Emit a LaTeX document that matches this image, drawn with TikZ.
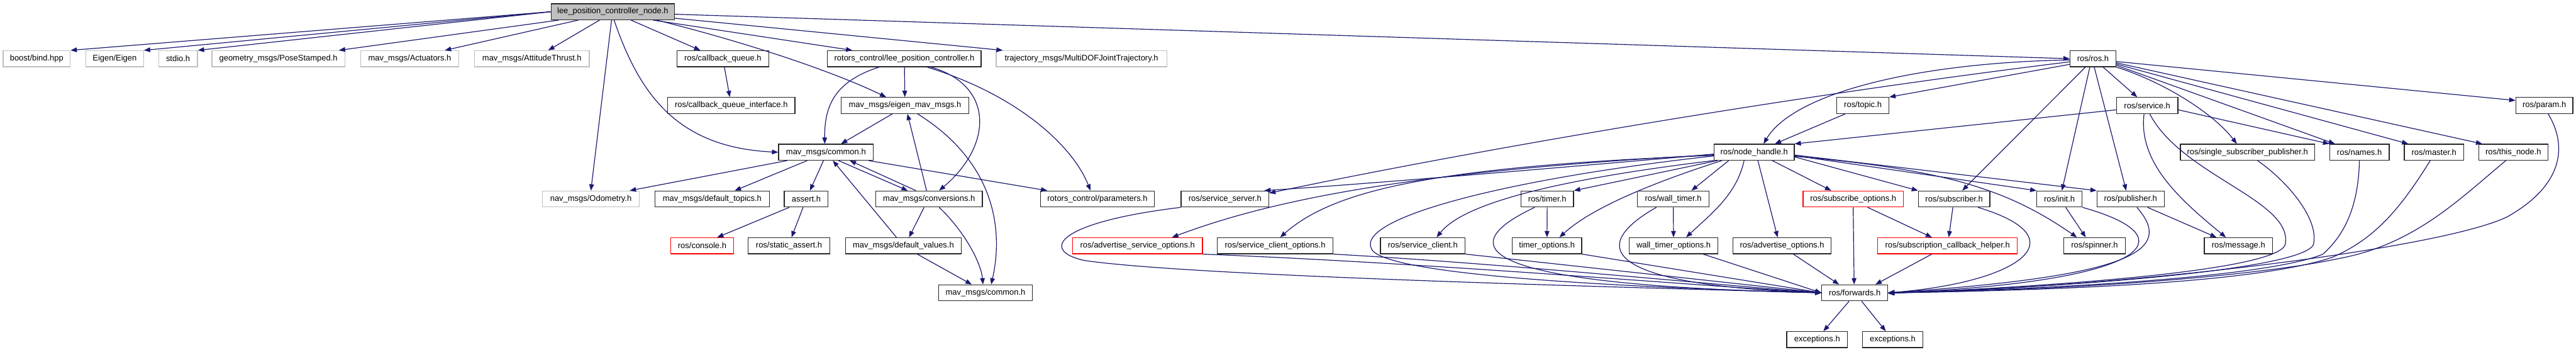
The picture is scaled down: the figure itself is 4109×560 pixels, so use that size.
\documentclass[tikz,border=0pt]{standalone}
\usepackage{fontspec}
\setmainfont{Liberation Sans}
\usetikzlibrary{arrows.meta}
\definecolor{edgec}{HTML}{191970}
\definecolor{gbord}{HTML}{BFBFBF}
\definecolor{topfill}{HTML}{BFBFBF}
\newcommand\nbox[6]{\pgfmathsetmacro\nbcx{(#3+#4)/2}\pgfmathsetmacro\nbw{#4-#3}\node[#1,minimum width=\nbw pt] (#2) at (\nbcx,#5) {#6};}
\tikzset{
 nb/.style={draw=black!85, line width=1.2pt, rectangle, inner sep=0pt, minimum height=25.5pt, font=\fontsize{13}{15}\selectfont, fill=white},
 ng/.style={nb, draw=gbord},
 nr/.style={nb, draw=red},
 ntop/.style={nb, fill=topfill},
 edg/.style={draw=edgec, line width=1.2pt, -{Triangle[length=10pt,width=7.5pt]}}
}
\begin{document}
\begin{tikzpicture}[x=1pt,y=-1pt]
\useasboundingbox (0,0) rectangle (4109,560);
% row 0
\nbox{ntop}{n0}{879}{1076}{18.7}{lee\_position\_controller\_node.h}
% row 1
\nbox{ng}{boost}{5}{112}{93.5}{boost/bind.hpp}
\nbox{ng}{eigen}{137}{229}{93.5}{Eigen/Eigen}
\nbox{ng}{stdio}{253}{315}{93.5}{stdio.h}
\nbox{ng}{pose}{338}{550}{93.5}{geometry\_msgs/PoseStamped.h}
\nbox{ng}{act}{575}{732}{93.5}{mav\_msgs/Actuators.h}
\nbox{ng}{att}{757}{940}{93.5}{mav\_msgs/AttitudeThrust.h}
\nbox{nb}{cbq}{1080}{1226}{93.5}{ros/callback\_queue.h}
\nbox{nb}{rclpc}{1320}{1565}{93.5}{rotors\_control/lee\_position\_controller.h}
\nbox{ng}{traj}{1589}{1861}{93.5}{trajectory\_msgs/MultiDOFJointTrajectory.h}
\nbox{nb}{ros}{3302}{3375}{93.5}{ros/ros.h}
% row 2
\nbox{nb}{cbqi}{1065}{1268}{168}{ros/callback\_queue\_interface.h}
\nbox{nb}{emm}{1342}{1545}{168}{mav\_msgs/eigen\_mav\_msgs.h}
\nbox{nb}{topic}{2930}{3013}{168}{ros/topic.h}
\nbox{nb}{service}{3376}{3474}{168}{ros/service.h}
\nbox{nb}{param}{4013}{4104}{168}{ros/param.h}
% row 3
\nbox{nb}{common1}{1242}{1393}{242.5}{mav\_msgs/common.h}
\nbox{nb}{nh}{2734}{2862}{242.5}{ros/node\_handle.h}
\nbox{nb}{ssp}{3478}{3692}{242.5}{ros/single\_subscriber\_publisher.h}
\nbox{nb}{names}{3716}{3811}{242.5}{ros/names.h}
\nbox{nb}{master}{3835}{3930}{242.5}{ros/master.h}
\nbox{nb}{thisnode}{3954}{4064}{242.5}{ros/this\_node.h}
% row 4
\nbox{ng}{odom}{865}{1020}{317}{nav\_msgs/Odometry.h}
\nbox{nb}{dtopics}{1045}{1227}{317}{mav\_msgs/default\_topics.h}
\nbox{nb}{assert}{1251}{1321}{317}{assert.h}
\nbox{nb}{conv}{1397}{1567}{317}{mav\_msgs/conversions.h}
\nbox{nb}{params}{1660}{1841}{317}{rotors\_control/parameters.h}
\nbox{nb}{sserver}{1884}{2024}{317}{ros/service\_server.h}
\nbox{nb}{timer}{2426}{2510}{317}{ros/timer.h}
\nbox{nb}{wtimer}{2612}{2726}{317}{ros/wall\_timer.h}
\nbox{nr}{subopt}{2876}{3036}{317}{ros/subscribe\_options.h}
\nbox{nb}{subscriber}{3060}{3174}{317}{ros/subscriber.h}
\nbox{nb}{init}{3249}{3321}{317}{ros/init.h}
\nbox{nb}{publisher}{3345}{3452}{317}{ros/publisher.h}
% row 5
\nbox{nr}{console}{1070}{1170}{391.5}{ros/console.h}
\nbox{nb}{sassert}{1193}{1324}{391.5}{ros/static\_assert.h}
\nbox{nb}{dvalues}{1349}{1533}{391.5}{mav\_msgs/default\_values.h}
\nbox{nr}{asopt}{1711}{1918}{391.5}{ros/advertise\_service\_options.h}
\nbox{nb}{scopt}{1942}{2126}{391.5}{ros/service\_client\_options.h}
\nbox{nb}{sclient}{2202}{2337}{391.5}{ros/service\_client.h}
\nbox{nb}{topt}{2412}{2523}{391.5}{timer\_options.h}
\nbox{nb}{wtopt}{2599}{2740}{391.5}{wall\_timer\_options.h}
\nbox{nb}{aopt}{2764}{2921}{391.5}{ros/advertise\_options.h}
\nbox{nr}{schelper}{2995}{3218}{391.5}{ros/subscription\_callback\_helper.h}
\nbox{nb}{spinner}{3292}{3390}{391.5}{ros/spinner.h}
\nbox{nb}{message}{3516}{3625}{391.5}{ros/message.h}
% row 6
\nbox{nb}{common2}{1497}{1647}{466.5}{mav\_msgs/common.h}
\nbox{nb}{fwd}{2906}{3011}{466.5}{ros/forwards.h}
% row 7
\nbox{nb}{exc1}{2850}{2947}{541}{exceptions.h}
\nbox{nb}{exc2}{2971}{3067}{541}{exceptions.h}

% ---- edges from top node
\draw[edg] (n0.west) -- (boost.north east);
\draw[edg] (n0.west) -- (eigen.north east);
\draw[edg] (n0.west) -- (stdio.north east);
\draw[edg] ([xshift=13pt]n0.south west) -- ([xshift=-10pt]pose.north east);
\draw[edg] ([xshift=44pt]n0.south west) -- ([xshift=-23pt]act.north east);
\draw[edg] ([xshift=78pt]n0.south west) -- ([xshift=26pt]att.north);
\draw[edg] ([xshift=-2pt]n0.south) -- (odom.north);
\draw[edg] ([xshift=2pt]n0.south) .. controls (1020,150) and (1080,235) .. (common1.west);
\draw[edg] ([xshift=29pt]n0.south) -- ([xshift=-36pt]cbq.north);
\draw[edg] ([xshift=70pt]n0.south) .. controls (1180,65) and (1320,110) .. ([xshift=-30pt]emm.north);
\draw[edg] ([xshift=64pt]n0.south) -- ([xshift=-83pt]rclpc.north);
\draw[edg] ([yshift=3pt]n0.south east) -- ([xshift=11pt]traj.north west);
\draw[edg] ([yshift=-4pt]n0.east) -- (ros.west);
% ---- mav_msgs part
\draw[edg] (cbq) -- (cbqi);
\draw[edg] (rclpc) -- (emm);
\draw[edg] ([xshift=-40pt]rclpc.south) .. controls (1330,130) and (1315,170) .. ([xshift=-2pt]common1.north);
\draw[edg] ([xshift=42pt]rclpc.south) .. controls (1585,135) and (1585,230) .. ([xshift=16pt]conv.north);
\draw[edg] ([xshift=36pt]rclpc.south) .. controls (1620,150) and (1710,230) .. ([xshift=-11pt]params.north);
\draw[edg] ([xshift=-20pt]emm.south) -- ([xshift=24pt]common1.north);
\draw[edg] ([xshift=20pt]emm.south) .. controls (1590,260) and (1600,370) .. ([xshift=9pt]common2.north);
\draw[edg] ([xshift=-4pt]conv.north) -- ([xshift=4pt]emm.south);
\draw[edg] ([xshift=-62pt]common1.south) -- ([xshift=62pt]odom.north);
\draw[edg] ([xshift=-30pt]common1.south) -- ([xshift=36pt]dtopics.north);
\draw[edg] ([xshift=-4pt]common1.south) -- ([xshift=6pt]assert.north);
\draw[edg] ([xshift=20pt]common1.south) -- ([xshift=-34pt]conv.north);
\draw[edg] ([xshift=-21pt]conv.north) -- ([xshift=38pt]common1.south);
\draw[edg] ([xshift=-11pt]dvalues.north) -- ([xshift=11pt]common1.south);
\draw[edg] ([xshift=68pt]common1.south) -- ([xshift=-80pt]params.north);
\draw[edg] ([xshift=-27pt]assert.south) -- ([xshift=24pt]console.north);
\draw[edg] ([xshift=-5pt]assert.south) -- ([xshift=4pt]sassert.north);
\draw[edg] ([xshift=-8pt]conv.south) -- ([xshift=9pt]dvalues.north);
\draw[edg] ([xshift=16pt]conv.south) .. controls (1540,370) and (1565,420) .. ([xshift=-4pt]common2.north);
\draw[edg] ([xshift=22pt]dvalues.south) -- ([xshift=-22pt]common2.north);
% ---- ros.h
\draw[edg] ([yshift=-2pt]ros.west) .. controls (3050,100) and (2860,150) .. ([xshift=15pt]nh.north);
\draw[edg] ([yshift=-9pt]ros.west) -- (topic.north east);
\draw[edg] ([yshift=-5pt]ros.west) .. controls (2800,160) and (2300,250) .. ([yshift=-4pt]sserver.north east);
\draw[edg] ([xshift=-12pt]ros.south) -- ([xshift=13pt]subscriber.north);
\draw[edg] ([xshift=-5pt]ros.south) -- ([xshift=4pt]init.north);
\draw[edg] ([xshift=2pt]ros.south) -- ([xshift=-7pt]publisher.north);
\draw[edg] ([xshift=16pt]ros.south) -- ([xshift=-16pt]service.north);
\draw[edg] (ros.south east) .. controls (3450,130) and (3530,180) .. ([xshift=-17pt]ssp.north);
\draw[edg] ([yshift=-10.5pt]ros.east) -- ([xshift=9pt]names.north west);
\draw[edg] ([yshift=-8.5pt]ros.east) -- ([xshift=7pt]master.north west);
\draw[edg] ([yshift=-6.5pt]ros.east) -- ([xshift=6pt]thisnode.north west);
\draw[edg] ([yshift=-4.5pt]ros.east) -- ([yshift=8pt]param.west);
% ---- service.h
\draw[edg] ([yshift=-7pt]service.west) -- (nh.north east);
\draw[edg] ([yshift=-7pt]service.east) -- (names.north west);
\draw[edg] ([xshift=-5pt]service.south) .. controls (3410,260) and (3480,320) .. ([xshift=-20pt]message.north);
\draw[edg] ([xshift=4pt]service.south) .. controls (3480,280) and (3660,320) .. (3645,390) .. controls (3630,430) and (3300,455) .. ([yshift=-1pt]fwd.east);
% ---- right column to forwards
\draw[edg] ([xshift=16pt]ssp.south) .. controls (3650,290) and (3700,350) .. (3690,390) .. controls (3670,430) and (3300,458) .. (fwd.east);
\draw[edg] (names.south) .. controls (3762,320) and (3745,370) .. (3705,405) .. controls (3620,440) and (3300,460) .. (fwd.east);
\draw[edg] ([xshift=-6pt]master.south) .. controls (3830,330) and (3790,380) .. (3720,410) .. controls (3600,450) and (3300,462) .. (fwd.east);
\draw[edg] ([xshift=-12pt]thisnode.south) .. controls (3920,320) and (3850,390) .. (3730,412) .. controls (3600,440) and (3300,463) .. (fwd.east);
\draw[edg] ([xshift=6pt]param.south) .. controls (4100,240) and (4080,300) .. (4000,345) .. controls (3900,395) and (3400,458) .. (fwd.east);
\draw[edg] ([xshift=-28pt]topic.south) -- ([xshift=33pt]nh.north);
% ---- node_handle.h
\draw[edg] ([yshift=-3pt]nh.west) .. controls (2400,275) and (2150,295) .. ([xshift=-8pt]sserver.north east);
\draw[edg] ([yshift=-4pt]nh.west) .. controls (2300,270) and (2050,310) .. ([xshift=55pt]asopt.north);
\draw[edg] ([yshift=-5pt]nh.west) .. controls (2300,265) and (2130,300) .. ([xshift=8pt]scopt.north);
\draw[edg] ([yshift=-6pt]nh.west) .. controls (2400,285) and (2150,350) .. (2190,400) .. controls (2230,440) and (2600,458) .. (fwd.west);
\draw[edg] (nh.south west) .. controls (2450,290) and (2330,330) .. ([xshift=22pt]sclient.north);
\draw[edg] ([xshift=6pt]nh.south west) -- (timer.north east);
\draw[edg] ([xshift=13pt]nh.south west) .. controls (2640,290) and (2540,330) .. ([xshift=20pt]topt.north);
\draw[edg] ([xshift=24pt]nh.south west) -- ([xshift=29pt]wtimer.north);
\draw[edg] ([xshift=-16pt]nh.south) .. controls (2770,310) and (2730,340) .. ([xshift=20pt]wtopt.north);
\draw[edg] ([xshift=6pt]nh.south) -- ([xshift=-7pt]aopt.north);
\draw[edg] ([xshift=29pt]nh.south) -- ([xshift=-35pt]subopt.north);
\draw[edg] ([yshift=-7.5pt]nh.east) -- (subscriber.north west);
\draw[edg] ([yshift=-5.5pt]nh.east) -- (init.north west);
\draw[edg] ([yshift=-4.5pt]nh.east) -- (publisher.north west);
\draw[edg] ([yshift=-6.5pt]nh.east) .. controls (3100,270) and (3200,300) .. ([xshift=-28pt]spinner.north);
% ---- timers etc.
\draw[edg] (timer) -- (topt);
\draw[edg] ([xshift=-20pt]timer.south) .. controls (2300,400) and (2380,455) .. (fwd.west);
\draw[edg] (wtimer) -- (wtopt);
\draw[edg] ([xshift=-27pt]wtimer.south) .. controls (2520,400) and (2580,455) .. (fwd.west);
\draw[edg] (sserver.south west) .. controls (1680,355) and (1660,400) .. (1730,415) .. controls (1900,440) and (2600,458) .. (fwd.west);
\draw[edg] (asopt.south east) .. controls (2300,420) and (2700,455) .. (fwd.west);
\draw[edg] (scopt.south east) .. controls (2400,420) and (2750,455) .. (fwd.west);
\draw[edg] (sclient.south east) -- (fwd.west);
\draw[edg] (topt.south east) -- (fwd.west);
\draw[edg] ([xshift=-24pt]wtopt.south east) -- (fwd.west);
\draw[edg] ([xshift=18pt]aopt.south) -- ([xshift=-25pt]fwd.north);
\draw[edg] (subopt.south) -- ([xshift=-1pt]fwd.north);
\draw[edg] ([xshift=23pt]subopt.south) -- ([xshift=-25pt]schelper.north);
\draw[edg] ([xshift=-2pt]subscriber.south) -- ([xshift=2pt]schelper.north);
\draw[edg] ([xshift=38pt]subscriber.south) .. controls (3320,380) and (3220,450) .. (fwd.east);
\draw[edg] ([xshift=-25pt]schelper.south) -- ([xshift=33pt]fwd.north);
\draw[edg] ([xshift=10pt]init.south) -- ([xshift=-14pt]spinner.north);
\draw[edg] (init.south east) .. controls (3500,380) and (3420,450) .. (fwd.east);
\draw[edg] ([xshift=10pt]publisher.south) .. controls (3470,400) and (3400,440) .. (fwd.east);
\draw[edg] ([xshift=27pt]publisher.south) -- ([xshift=-35pt]message.north);
\draw[edg] ([xshift=-9pt]fwd.south) -- ([xshift=10pt]exc1.north);
\draw[edg] ([xshift=11pt]fwd.south) -- ([xshift=-11pt]exc2.north);
\end{tikzpicture}
\end{document}
